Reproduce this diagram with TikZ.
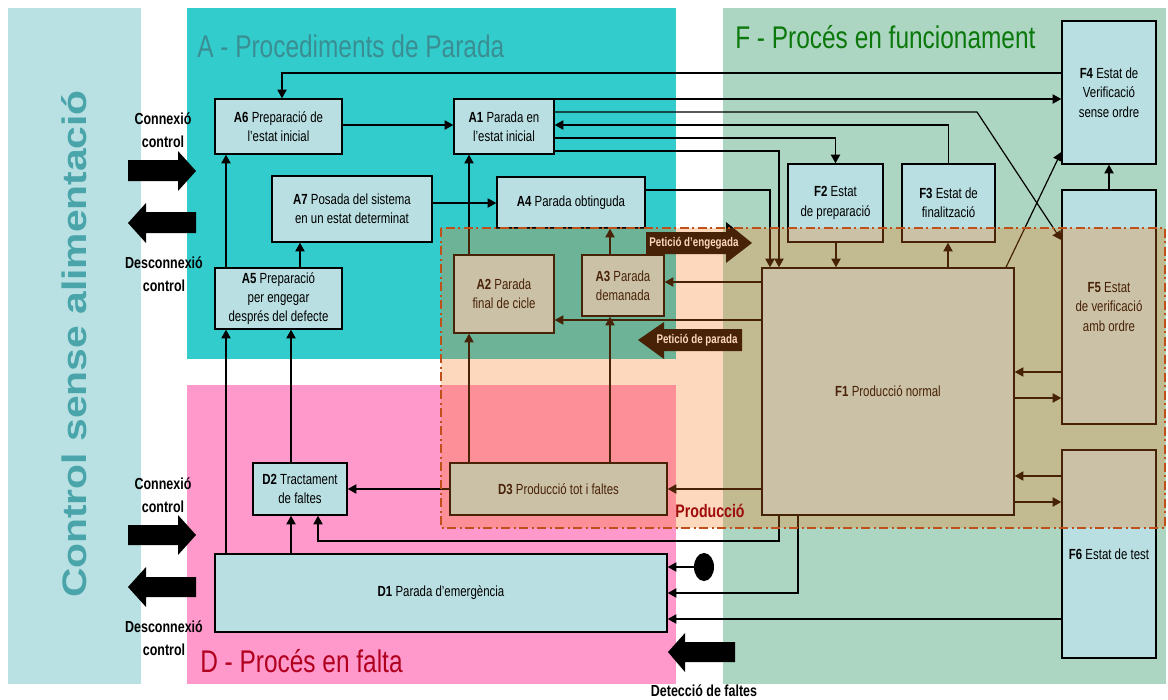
\documentclass[tikz,border=0pt]{standalone}
\usepackage{fontspec}
\setmainfont{Liberation Sans}
\newfontfamily\nf[FakeStretch=0.78]{Liberation Sans}
\newfontfamily\wf[FakeStretch=1.2]{Liberation Sans}
\usetikzlibrary{arrows.meta,shapes.geometric}
\definecolor{panel}{HTML}{B9E0E3}
\definecolor{acyan}{HTML}{33CCCC}
\definecolor{dpink}{HTML}{FF99CC}
\definecolor{fgreen}{HTML}{ADD6C2}
\definecolor{boxblue}{HTML}{B9DFE2}
\definecolor{ovl}{RGB}{248,120,24}
\definecolor{ovline}{HTML}{C0501A}
\definecolor{ttlA}{HTML}{3A8E93}
\definecolor{ttlF}{HTML}{0A780A}
\definecolor{ttlD}{HTML}{B0001E}
\definecolor{ctl}{HTML}{4AA5AB}
\definecolor{prod}{HTML}{9E0C0C}
\newdimen\pxu \pxu=0.75pt
\begin{document}
\begin{tikzpicture}[x=0.75pt,y=-0.75pt,
  box/.style={draw=black, line width=1.1pt, fill=boxblue, inner sep=1pt, align=center,
    font=\nf\fontsize{11pt}{14.5pt}\selectfont},
  arr/.style={line width=0.9pt, -{Triangle[length=6.5pt,width=7pt]}},
  lbl/.style={align=center, inner sep=0, font=\nf\bfseries\fontsize{12pt}{17pt}\selectfont},
  blk/.style={fill=black},
  ttl/.style={anchor=base west, inner sep=0, font=\nf\fontsize{23.5pt}{26pt}\selectfont}
]
\useasboundingbox (0,0) rectangle (1168,700);
% backgrounds
\fill[panel] (8,8) rectangle (141,684);
\fill[acyan] (187,8) rectangle (676,359);
\fill[dpink] (187,385) rectangle (676,684);
\fill[fgreen] (723,8) rectangle (1166,684);
\node[rotate=90, inner sep=0, text=ctl, font=\wf\bfseries\fontsize{25.5pt}{28pt}\selectfont] (ctltitle) at (74,344) {Control sense alimentació};
\node[ttl, text=ttlA] (tA) at (197,57) {A - Procediments de Parada};
\node[ttl, text=ttlF] (tF) at (735,48) {F - Procés en funcionament};
\node[ttl, text=ttlD] (tD) at (200,672) {D - Procés en falta};

% boxes
\node[box, minimum width=127\pxu, minimum height=55\pxu] (A6) at (278.5,126.5) {\textbf{A6} Preparació de\\l’estat inicial};
\node[box, minimum width=100\pxu, minimum height=55\pxu] (A1) at (504,126.5) {\textbf{A1} Parada en\\l’estat inicial};
\node[box, minimum width=160\pxu, minimum height=66\pxu] (A7) at (352,209) {\textbf{A7} Posada del sistema\\en un estat determinat};
\node[box, minimum width=148\pxu, minimum height=51\pxu] (A4) at (571,202.5) {\textbf{A4} Parada obtinguda};
\node[box, minimum width=100\pxu, minimum height=78\pxu] (A2) at (504,294) {\textbf{A2} Parada\\final de cicle};
\node[box, minimum width=82\pxu, minimum height=61\pxu] (A3) at (623,285.5) {\textbf{A3} Parada\\demanada};
\node[box, minimum width=127\pxu, minimum height=61\pxu] (A5) at (278.5,298.5) {\textbf{A5} Preparació\\per engegar\\després del defecte};
\node[box, minimum width=94\pxu, minimum height=52\pxu] (D2) at (300,489) {\textbf{D2} Tractament\\de faltes};
\node[box, minimum width=217\pxu, minimum height=52\pxu] (D3) at (558.5,489) {\textbf{D3} Producció tot i faltes};
\node[box, minimum width=452\pxu, minimum height=78\pxu] (D1) at (441,593) {\textbf{D1} Parada d’emergència};
\node[box, minimum width=95\pxu, minimum height=78\pxu] (F2) at (835.5,203) {\textbf{F2} Estat\\de preparació};
\node[box, minimum width=93\pxu, minimum height=78\pxu] (F3) at (948.5,203) {\textbf{F3} Estat de\\finalització};
\node[box, minimum width=252\pxu, minimum height=247\pxu] (F1) at (888,391.5) {\textbf{F1} Producció normal};
\node[box, minimum width=94\pxu, minimum height=143\pxu] (F4) at (1109,92.5) {\textbf{F4} Estat de\\Verificació\\sense ordre};
\node[box, minimum width=94\pxu, minimum height=234\pxu] (F5) at (1109,307) {\textbf{F5} Estat\\de verificació\\amb ordre};
\node[box, minimum width=94\pxu, minimum height=208\pxu] (F6) at (1109,554) {\textbf{F6} Estat de test};
\node[ellipse, fill=black, inner sep=0, minimum width=20\pxu, minimum height=28\pxu] (stop) at (704,567) {};

% connectors
\draw[arr] (F4.west |- 0,73) -| (A6.north -| 282,0);
\draw[arr] (A6.east |- 0,125) -- (A1.west |- 0,125);
\draw[arr] (A1.east |- 0,99) -- (F4.west |- 0,99);
\draw[arr] (A1.east |- 0,112) -- (977,112) -- (F5.west |- 0,240);
\draw[arr] (F3.north) |- (A1.east |- 0,125);
\draw[arr] (A1.east |- 0,138) -| (F2.north);
\draw[arr] (A1.east |- 0,151) -| (F1.north -| 779,0);
\draw[arr] (A4.east |- 0,190) -| (F1.north -| 770,0);
\draw[arr] (A7.east |- 0,203) -- (A4.west |- 0,203);
\draw[arr] (A5.north -| 226,0) -- (A6.south -| 226,0);
\draw[arr] (A5.north -| 300,0) -- (A7.south -| 300,0);
\draw[arr] (A2.north -| 469,0) -- (A1.south -| 469,0);
\draw[arr] (A3.north -| 610,0) -- (A4.south -| 610,0);
\draw[arr] (F1.west |- 0,282) -- (A3.east |- 0,282);
\draw[arr] (F1.west |- 0,320) -- (A2.east |- 0,320);
\draw[arr] (D3.north -| 469,0) -- (A2.south -| 469,0);
\draw[arr] (D3.north -| 610,0) -- (A3.south -| 610,0);
\draw[arr] (D3.west) -- (D2.east);
\draw[arr] (F1.west |- 0,489) -- (D3.east);
\draw[arr] (D1.north -| 226,0) -- (A5.south -| 226,0);
\draw[arr] (D2.north -| 291,0) -- (A5.south -| 291,0);
\draw[arr] (D1.north -| 291,0) -- (D2.south -| 291,0);
\draw[arr] (F1.south -| 779,0) |- (318,541) -- (D2.south -| 318,0);
\draw[arr] (F1.south -| 798,0) |- (D1.east |- 0,593);
\draw[arr] (stop) -- (D1.east |- stop);
\draw[arr] (F6.west |- 0,619) -- (D1.east |- 0,619);
\draw[arr] (F2.south -| 836,0) -- (F1.north -| 836,0);
\draw[arr] (F1.north -| 948,0) -- (F3.south -| 948,0);
\draw[arr] (F1.north -| 1006,0) -- (F4.west |- 0,152);
\draw[arr] (F5.north) -- (F4.south);
\draw[arr] (F5.west |- 0,372) -- (F1.east |- 0,372);
\draw[arr] (F1.east |- 0,398) -- (F5.west |- 0,398);
\draw[arr] (F6.west |- 0,476) -- (F1.east |- 0,476);
\draw[arr] (F1.east |- 0,502) -- (F6.west |- 0,502);

% block arrows
\fill[blk] (128,160) -- (178,160) -- (178,151) -- (196,171) -- (178,191) -- (178,181) -- (128,181) -- cycle;
\fill[blk] (196,212) -- (146,212) -- (146,203) -- (128,223) -- (146,243) -- (146,233) -- (196,233) -- cycle;
\fill[blk] (128,525) -- (178,525) -- (178,515) -- (196,535) -- (178,555) -- (178,545) -- (128,545) -- cycle;
\fill[blk] (196,577) -- (146,577) -- (146,567) -- (128,587) -- (146,607) -- (146,597) -- (196,597) -- cycle;
\fill[blk] (735,642) -- (685,642) -- (685,633) -- (668,652) -- (685,672) -- (685,662) -- (735,662) -- cycle;
\fill[blk] (646,232) -- (726,232) -- (726,222) -- (752,243) -- (726,263) -- (726,254) -- (646,254) -- cycle;
\fill[blk] (742,329) -- (664,329) -- (664,322) -- (638,340) -- (664,359) -- (664,351) -- (742,351) -- cycle;
\node[inner sep=0, text=white, font=\nf\bfseries\fontsize{9.4pt}{10pt}\selectfont] (pe) at (694,243) {Petició d’engegada};
\node[inner sep=0, text=white, font=\nf\bfseries\fontsize{9.4pt}{10pt}\selectfont] (pp) at (697,340) {Petició de parada};

% labels
\node[lbl] (c1) at (163,130) {Connexió\\control};
\node[lbl] (d1) at (164,274) {Desconnexió\\control};
\node[lbl] (c2) at (163,495) {Connexió\\control};
\node[lbl] (d2) at (164,638) {Desconnexió\\control};
\node[lbl] (det) at (704,691) {Detecció de faltes};

% production overlay
\fill[ovl, opacity=0.29] (441,228) rectangle (1165,528);
\draw[ovline, line width=1.5pt, dash pattern=on 7pt off 2.5pt on 1.5pt off 2.5pt] (441,228) rectangle (1165,528);
\node[inner sep=0, text=prod, font=\nf\bfseries\fontsize{13.6pt}{15pt}\selectfont] (prodl) at (710,511) {Producció};
\end{tikzpicture}
\end{document}
